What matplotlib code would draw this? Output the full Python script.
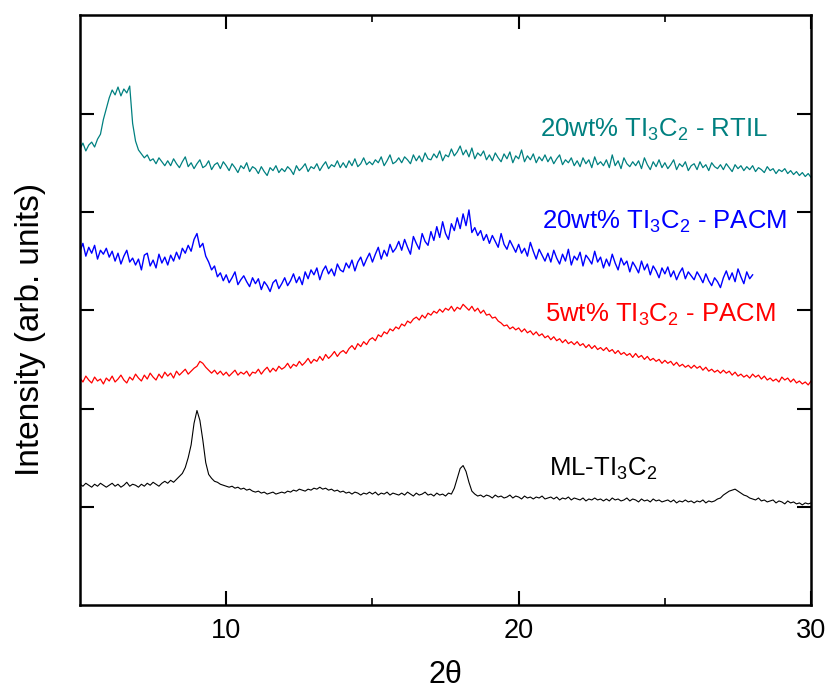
import numpy as np
import matplotlib
matplotlib.use("Agg")
import matplotlib.pyplot as plt

plt.rcParams['font.family'] = ['Liberation Sans', 'DejaVu Sans']
plt.rcParams['mathtext.default'] = 'regular'

# 2theta grid: step 0.1 deg
two_theta = np.round(np.arange(5.0, 30.05, 0.1), 1)
two_theta_pacm20 = np.round(np.arange(5.0, 28.05, 0.1), 1)

# intensities (arb. units, curves already offset)
rtil20 = [
    464, 470, 462, 468, 471, 466, 474, 479, 494, 505,   # 5
    516, 524, 519, 527, 518, 525, 521, 528, 490, 472,   # 6
    463, 459, 455, 458, 452, 454, 449, 455, 451, 447,   # 7
    452, 447, 454, 449, 445, 451, 456, 446, 450, 444,   # 8
    449, 453, 445, 447, 452, 443, 448, 450, 444, 451,   # 9
    447, 442, 449, 445, 440, 447, 444, 450, 441, 446,   # 10
    444, 439, 446, 441, 437, 445, 442, 447, 440, 444,   # 11
    441, 446, 443, 438, 447, 442, 445, 449, 441, 446,   # 12
    444, 449, 442, 447, 451, 444, 448, 446, 452, 445,   # 13
    450, 445, 452, 447, 454, 446, 449, 455, 448, 451,   # 14
    448, 453, 450, 456, 447, 452, 458, 449, 451, 455,   # 15
    450, 456, 453, 449, 458, 452, 457, 451, 460, 454,   # 16
    453, 459, 455, 462, 452, 458, 456, 464, 457, 461,   # 17
    467, 458, 463, 456, 465, 454, 460, 457, 462, 453,   # 18
    458, 452, 460, 455, 451, 459, 454, 461, 450, 457,   # 19
    454, 463, 451, 457, 453, 459, 450, 456, 452, 458,   # 20
    451, 456, 449, 454, 458, 448, 453, 450, 455, 447,   # 21
    452, 446, 455, 449, 453, 445, 456, 448, 451, 447,   # 22
    453, 445, 458, 447, 452, 444, 455, 449, 446, 451,   # 23
    447, 452, 444, 455, 448, 443, 451, 446, 453, 445,   # 24
    450, 444, 448, 453, 443, 449, 446, 451, 442, 447,   # 25
    449, 443, 451, 445, 448, 442, 450, 446, 444, 448,   # 26
    443, 449, 445, 441, 448, 444, 447, 442, 446, 443,   # 27
    447, 441, 445, 443, 440, 446, 442, 444, 439, 443,   # 28
    441, 444, 439, 442, 438, 441, 437, 440, 436, 439,   # 29
    435,
]

pacm20 = [
    360, 368, 355, 364, 358, 366, 352, 361, 357, 363,   # 5
    354, 360, 350, 358, 347, 355, 361, 349, 353, 346,   # 6
    352, 341, 356, 358, 345, 351, 343, 357, 348, 354,   # 7
    346, 356, 350, 359, 352, 363, 358, 366, 360, 372,   # 8
    378, 364, 368, 355, 349, 341, 345, 334, 338, 330,   # 9
    336, 328, 333, 339, 326, 331, 335, 329, 324, 333,   # 10
    327, 332, 321, 329, 325, 319, 328, 331, 322, 327,   # 11
    333, 325, 330, 337, 328, 334, 326, 339, 332, 341,   # 12
    336, 343, 331, 340, 345, 337, 342, 335, 347, 341,   # 13
    339, 348, 343, 351, 340, 349, 354, 345, 352, 358,   # 14
    349, 357, 364, 352, 361, 355, 367, 359, 363, 370,   # 15
    361, 372, 364, 357, 375, 368, 362, 378, 370, 366,   # 16
    380, 371, 385, 374, 390, 378, 372, 388, 381, 394,   # 17
    383, 398, 386, 402, 379, 384, 376, 381, 371, 377,   # 18
    368, 376, 370, 364, 378, 367, 362, 371, 365, 359,   # 19
    367, 358, 363, 355, 369, 360, 352, 362, 356, 350,   # 20
    358, 349, 361, 353, 347, 357, 350, 362, 346, 355,   # 21
    351, 359, 345, 356, 352, 347, 360, 349, 354, 343,   # 22
    352, 345, 357, 348, 341, 353, 346, 350, 339, 349,   # 23
    344, 338, 350, 341, 347, 336, 345, 340, 333, 343,   # 24
    337, 344, 334, 340, 331, 338, 343, 332, 339, 335,   # 25
    331, 339, 334, 328, 337, 330, 325, 333, 329, 323,   # 26
    333, 340, 331, 338, 329, 342, 334, 327, 339, 332,   # 27
    336,
]

pacm5 = [
    231, 227, 233, 229, 226, 232, 228, 230, 225, 231,   # 5
    228, 233, 227, 230, 234, 229, 226, 232, 229, 235,   # 6
    231, 228, 234, 230, 236, 232, 229, 235, 231, 237,   # 7
    233, 236, 231, 238, 234, 237, 240, 235, 238, 241,   # 8
    243, 248, 246, 242, 239, 236, 239, 235, 238, 234,   # 9
    237, 233, 236, 239, 234, 237, 235, 238, 233, 237,   # 10
    236, 240, 235, 239, 242, 237, 241, 238, 243, 240,   # 11
    242, 246, 241, 245, 243, 248, 244, 247, 251, 246,   # 12
    250, 248, 253, 249, 255, 251, 254, 258, 253, 257,   # 13
    259, 256, 261, 264, 260, 266, 263, 268, 265, 270,   # 14
    272, 269, 275, 273, 278, 276, 281, 279, 283, 281,   # 15
    286, 284, 289, 287, 291, 293, 290, 295, 292, 297,   # 16
    295, 299, 297, 301, 298, 302, 300, 304, 299, 303,   # 17
    301, 306, 303, 300, 304, 299, 302, 297, 300, 295,   # 18
    296, 292, 293, 289, 287, 284, 285, 281, 283, 280,   # 19
    282, 278, 281, 277, 279, 275, 278, 274, 276, 272,   # 20
    274, 270, 273, 269, 271, 267, 270, 266, 268, 265,   # 21
    268, 264, 266, 262, 265, 261, 264, 260, 262, 259,   # 22
    262, 258, 260, 256, 259, 255, 257, 254, 256, 252,   # 23
    256, 252, 254, 250, 253, 249, 251, 248, 250, 246,   # 24
    249, 246, 248, 244, 247, 243, 245, 242, 244, 241,   # 25
    244, 241, 243, 239, 242, 238, 240, 237, 239, 236,   # 26
    239, 236, 238, 234, 237, 233, 235, 232, 234, 231,   # 27
    235, 232, 234, 230, 233, 229, 231, 228, 230, 227,   # 28
    232, 229, 231, 227, 230, 226, 228, 225, 227, 224,   # 29
    228,
]

ml = [
    123, 121, 124, 122, 120, 123, 121, 124, 122, 120,   # 5
    122, 124, 121, 123, 120, 122, 125, 121, 123, 122,   # 6
    120, 123, 121, 124, 122, 125, 123, 121, 124, 126,   # 7
    124, 127, 125, 128, 131, 134, 140, 150, 163, 185,   # 8
    198, 188, 168, 145, 133, 129, 126, 125, 123, 122,   # 9
    121, 120, 121, 119, 120, 118, 119, 117, 118, 116,   # 10
    115, 116, 114, 115, 113, 114, 115, 113, 114, 115,   # 11
    114, 116, 115, 117, 116, 118, 117, 116, 118, 117,   # 12
    119, 118, 120, 118, 119, 117, 118, 116, 117, 115,   # 13
    116, 114, 115, 113, 115, 114, 112, 114, 113, 115,   # 14
    113, 115, 112, 114, 113, 115, 112, 114, 113, 112,   # 15
    114, 112, 115, 113, 111, 114, 112, 113, 115, 112,   # 16
    113, 111, 114, 112, 113, 111, 114, 113, 119, 129,   # 17
    139, 142, 136, 125, 116, 113, 111, 112, 110, 112,   # 18
    111, 109, 112, 110, 111, 109, 110, 112, 109, 111,   # 19
    110, 108, 111, 109, 110, 108, 110, 109, 111, 108,   # 20
    109, 110, 108, 110, 107, 109, 108, 110, 107, 109,   # 21
    108, 107, 109, 106, 108, 107, 109, 107, 108, 106,   # 22
    108, 106, 109, 107, 108, 106, 107, 109, 106, 108,   # 23
    107, 105, 108, 106, 107, 105, 108, 106, 107, 105,   # 24
    106, 107, 105, 107, 104, 106, 105, 107, 105, 106,   # 25
    104, 106, 105, 107, 104, 106, 105, 106, 108, 109,   # 26
    112, 114, 116, 117, 118, 116, 114, 112, 111, 109,   # 27
    108, 107, 109, 106, 107, 105, 106, 107, 104, 106,   # 28
    105, 103, 106, 104, 105, 103, 104, 102, 104, 103,   # 29
    104,
]

fig = plt.figure(figsize=(8.28, 6.94), dpi=100)
ax = fig.add_axes([0.0966, 0.128, 0.883, 0.850])

ax.plot(two_theta, rtil20, color='#008080', lw=0.9)
ax.plot(two_theta_pacm20, pacm20, color='#0000ff', lw=1.0)
ax.plot(two_theta, pacm5, color='#ff0000', lw=0.9)
ax.plot(two_theta, ml, color='black', lw=0.8)

fs = 18.5
ax.text(20.73, 476, '20wt% TI$_3$C$_2$ - RTIL', color='#008080', fontsize=fs)
ax.text(20.8, 383, '20wt% TI$_3$C$_2$ - PACM', color='#0000ff', fontsize=fs)
ax.text(20.9, 288, '5wt% TI$_3$C$_2$ - PACM', color='#ff0000', fontsize=fs)
ax.text(21.04, 132, 'ML-TI$_3$C$_2$', color='black', fontsize=fs)

ax.set_xlim(5, 30)
ax.set_ylim(0, 600)
ax.set_xticks([10, 20, 30])
ax.set_xticks([15, 25], minor=True)
ax.set_yticks([100, 200, 300, 400, 500])
ax.set_yticklabels([])

ax.tick_params(axis='both', which='major', direction='in', length=10, width=1.5,
               top=True, right=True, labelsize=19.5, pad=9)
ax.tick_params(axis='x', which='minor', direction='in', length=5, width=1.2, top=True)
for s in ax.spines.values():
    s.set_linewidth(1.8)

ax.set_xlabel('2θ', fontsize=22, labelpad=12)
ax.set_ylabel('Intensity (arb. units)', fontsize=24)
ax.yaxis.set_label_coords(-0.046, 0.468)

fig.savefig('out.png', dpi=100)
